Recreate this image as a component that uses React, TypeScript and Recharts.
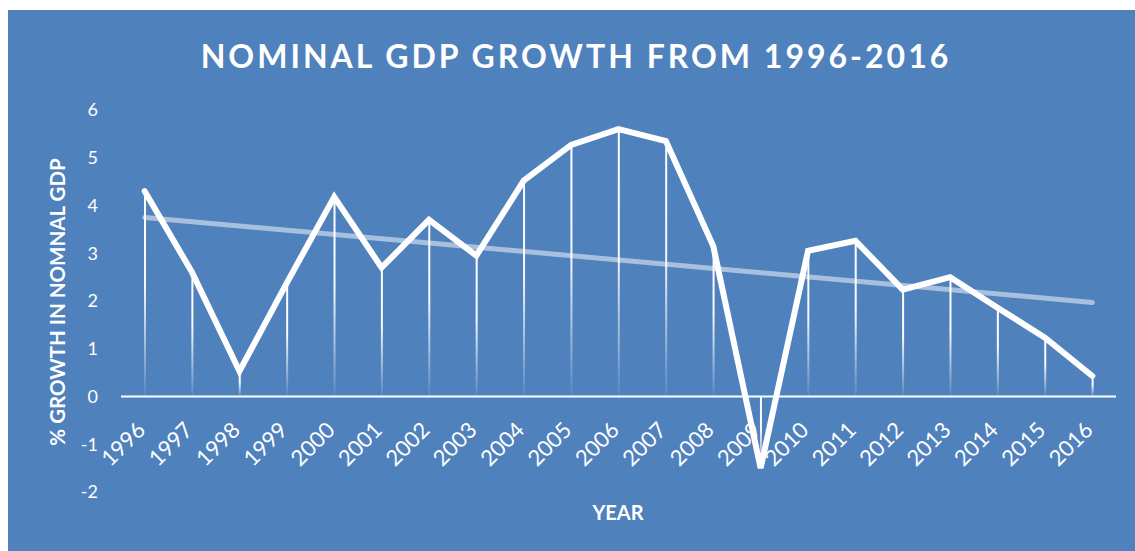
import React from 'react';
import { ComposedChart, Line, Bar, XAxis, YAxis, ReferenceLine, LabelList } from 'recharts';

const years = ['1996','1997','1998','1999','2000','2001','2002','2003','2004','2005','2006','2007','2008','2009','2010','2011','2012','2013','2014','2015','2016'];
const growth = [4.3, 2.6, 0.53, 2.38, 4.18, 2.7, 3.7, 2.95, 4.52, 5.27, 5.6, 5.35, 3.15, -1.5, 3.05, 3.26, 2.24, 2.5, 1.86, 1.23, 0.43];
const yTicks = [-2, -1, 0, 1, 2, 3, 4, 5, 6];
const trendStart = 3.75;
const trendEnd = 1.97;

const data = years.map((year, i) => ({ year, growth: growth[i] }));

const FONT = 'Lato, "Open Sans", sans-serif';
const BG = '#4F81BD';

const YearLabel = (props: any) => {
  const { x, y, value } = props;
  return (
    <text
      transform={`translate(${x + 2},${y + 35}) rotate(-45)`}
      textAnchor="end"
      fill="#FFFFFF"
      fontSize={22}
      fontFamily={FONT}
    >
      {value}
    </text>
  );
};

export default function App() {
  return (
    <div style={{ position: 'absolute', left: 8, top: 10, width: 1127, height: 541, background: BG, fontFamily: FONT }}>
      <ComposedChart width={1127} height={541} data={data} margin={{ top: 100, right: 19, bottom: 59, left: 0 }}>
        <defs>
          <linearGradient id="dropGrad" x1="0" y1="0" x2="0" y2="1">
            <stop offset="0" stopColor="#FFFFFF" stopOpacity={1} />
            <stop offset="0.45" stopColor="#FFFFFF" stopOpacity={0.95} />
            <stop offset="1" stopColor="#FFFFFF" stopOpacity={0.05} />
          </linearGradient>
        </defs>
        <XAxis dataKey="year" hide />
        <YAxis
          domain={[-2, 6]}
          ticks={yTicks}
          width={113}
          axisLine={false}
          tickLine={false}
          tickSize={0}
          tickMargin={23}
          tick={{ fill: '#FFFFFF', fontSize: 18, fontFamily: FONT }}
          interval={0}
        />
        <ReferenceLine y={0} stroke="#FFFFFF" strokeWidth={2} />
        <Bar dataKey="growth" barSize={2} fill="url(#dropGrad)" isAnimationActive={false} />
        <Line dataKey={() => 0} stroke="none" dot={false} activeDot={false} isAnimationActive={false}>
          <LabelList dataKey="year" content={YearLabel} />
        </Line>
        <ReferenceLine
          segment={[{ x: years[0], y: trendStart }, { x: years[years.length - 1], y: trendEnd }]}
          stroke="rgba(255,255,255,0.5)"
          strokeWidth={5}
          strokeLinecap="round"
        />
        <Line
          type="linear"
          dataKey="growth"
          stroke="#FFFFFF"
          strokeWidth={6}
          strokeLinejoin="miter"
          strokeLinecap="round"
          dot={false}
          activeDot={false}
          isAnimationActive={false}
        />
      </ComposedChart>
      <svg width={1127} height={541} style={{ position: 'absolute', left: 0, top: 0, pointerEvents: 'none' }}>
        <text x={568} y={58} textAnchor="middle" fill="#FFFFFF" fontSize={32} fontWeight="bold" letterSpacing={3} fontFamily={FONT}>
          NOMINAL GDP GROWTH FROM 1996-2016
        </text>
        <text transform="translate(57,292) rotate(-90)" textAnchor="middle" fill="#FFFFFF" fontSize={20.5} fontWeight="bold" fontFamily={FONT}>
          % GROWTH IN NOMNAL GDP
        </text>
        <text x={610} y={510} textAnchor="middle" fill="#FFFFFF" fontSize={20} fontWeight="bold" fontFamily={FONT}>
          YEAR
        </text>
      </svg>
    </div>
  );
}
